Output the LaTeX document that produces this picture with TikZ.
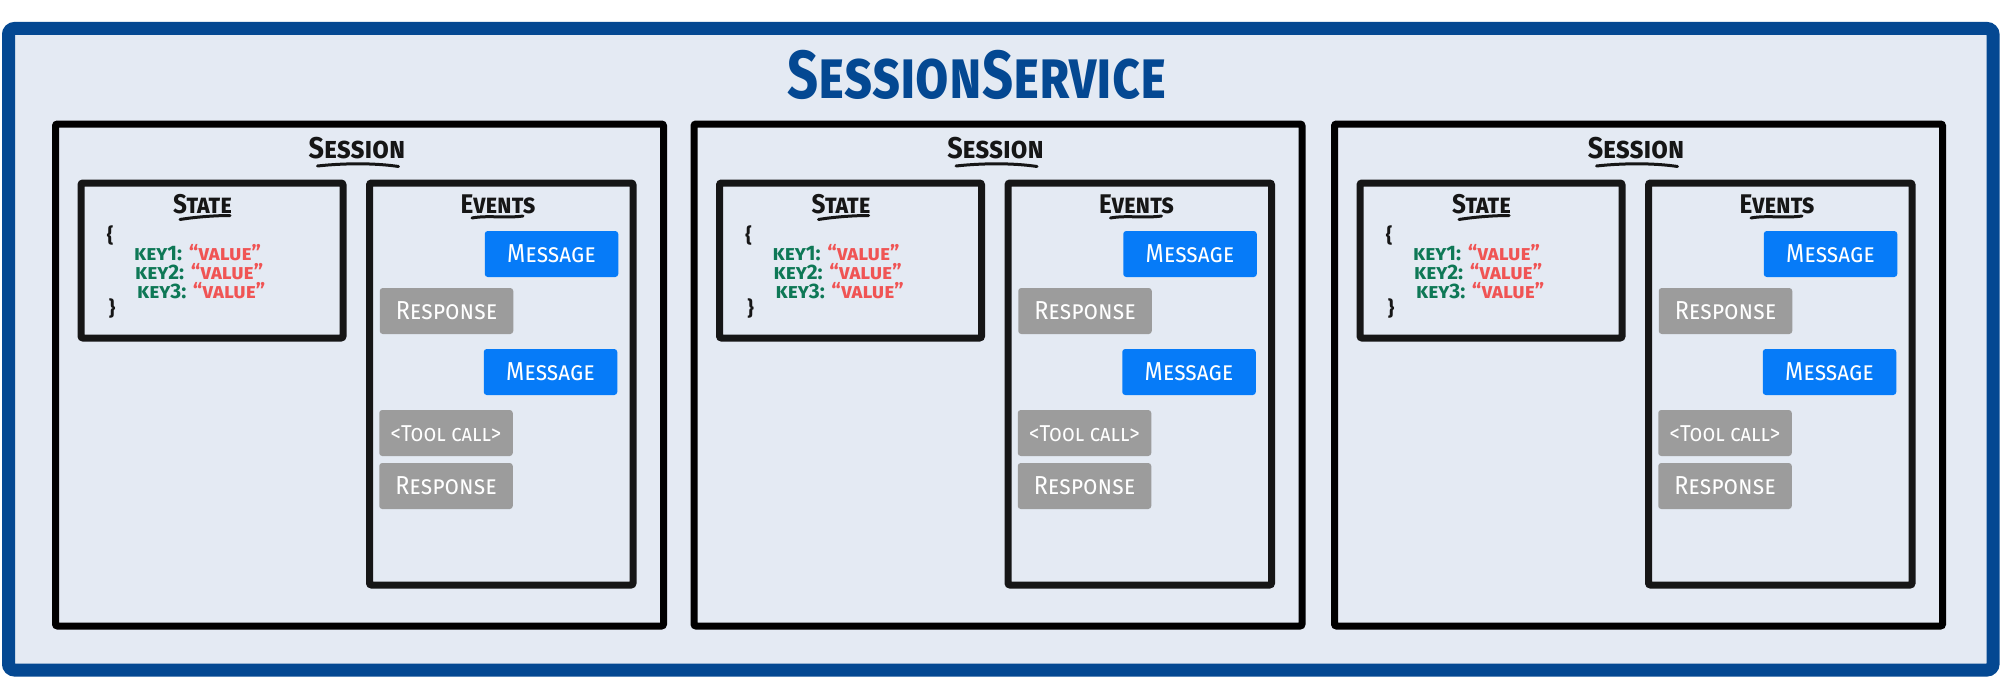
\documentclass[tikz,border=0pt]{standalone}
\usepackage{fontspec}
\newfontfamily\hand{Fira Sans}[Letters=SmallCaps]
\newfontfamily\handn{Fira Sans}[Letters=SmallCaps, FakeStretch=0.9]
\newfontfamily\handt{Fira Sans}[Letters=SmallCaps, FakeStretch=0.8]
\definecolor{bgc}{RGB}{228,234,243}
\definecolor{navy}{RGB}{4,72,146}
\definecolor{ink}{RGB}{22,22,22}
\definecolor{msgblue}{RGB}{6,123,248}
\definecolor{respgray}{RGB}{156,156,156}
\definecolor{keyg}{RGB}{14,120,86}
\definecolor{valr}{RGB}{240,84,84}
\tikzset{
  outerbox/.style={draw=navy, fill=bgc, line width=13, rounded corners=6, inner sep=0,
    minimum width=1984.5, minimum height=641.5},
  sessbox/.style={draw=black, line width=7, rounded corners=2, inner sep=0,
    minimum width=608, minimum height=502},
  statebox/.style={draw=ink, line width=7, rounded corners=2, inner sep=0,
    minimum width=262, minimum height=155},
  eventsbox/.style={draw=ink, line width=7, rounded corners=2, inner sep=0,
    minimum width=263.5, minimum height=402},
  evt/.style={rounded corners=3, inner sep=0, minimum width=133.5, minimum height=46,
    text=white, font=\handn\fontsize{26}{26}\selectfont, text height=16pt, text depth=0pt},
  msg/.style={evt, fill=msgblue},
  resp/.style={evt, fill=respgray},
  heading/.style={anchor=base, text=ink, inner sep=0, font=\handn\bfseries\fontsize{30}{30}\selectfont},
  subheading/.style={anchor=base, text=ink, inner sep=0, font=\handn\bfseries\fontsize{27}{27}\selectfont},
  kv/.style={anchor=base west, inner sep=0, font=\hand\bfseries\fontsize{21}{21}\selectfont},
  brace/.style={inner sep=0, text=ink, font=\hand\bfseries\fontsize{20}{20}\selectfont},
  uline/.style={draw=ink, line width=3, line cap=round}
}
\begin{document}
\begin{tikzpicture}[x=1pt,y=-1pt]
\useasboundingbox (0,0) rectangle (2007,685);
\fill[white] (0,0) rectangle (2007,685);
\node[outerbox] (svc) at (1000.75,349.25) {};
\node[anchor=base, text=navy, inner sep=0, font=\handt\bfseries\fontsize{68}{68}\selectfont] (svctitle) at (977,98) {SessionService};
\foreach \i/\dx in {1/0,2/638.5,3/1279}{
  \begin{scope}[shift={(\dx,0)}]
    \node[sessbox] (sess\i) at (359.5,375) {};
    \node[heading] (sesst\i) at (357,158) {Session};
    \draw[uline] (317.5,166) .. controls (345,163) and (375,163) .. (398.5,166.5);
    \node[statebox] (state\i) at (212,260.5) {};
    \node[subheading] (statet\i) at (202.5,213) {State};
    \draw[uline] (180,219.5) .. controls (195,217) and (215,215.5) .. (230,215.5);
    \node[brace] (lbrace\i) at (110,235) {\{};
    \node[kv] (ka\i) at (134,260) {\textcolor{keyg}{key1:} \textcolor{valr}{“value”}};
    \node[kv] (kb\i) at (135,279) {\textcolor{keyg}{key2:} \textcolor{valr}{“value”}};
    \node[kv] (kc\i) at (137,298) {\textcolor{keyg}{key3:} \textcolor{valr}{“value”}};
    \node[brace] (rbrace\i) at (112,308) {\}};
    \node[eventsbox] (events\i) at (501.25,384) {};
    \node[subheading] (eventst\i) at (498,213) {Events};
    \draw[uline] (472,218) .. controls (488,215) and (505,218.5) .. (523,216);
    \node[msg] (ma\i) at (551.5,254) {Message};
    \node[resp] (ra\i) at (446.5,311) {Response};
    \node[msg] (mb\i) at (550.5,372) {Message};
    \node[resp, font=\handn\fontsize{23}{23}\selectfont] (tc\i) at (446,433) {<Tool call>};
    \node[resp] (rb\i) at (446,486) {Response};
  \end{scope}
}
\end{tikzpicture}
\end{document}
